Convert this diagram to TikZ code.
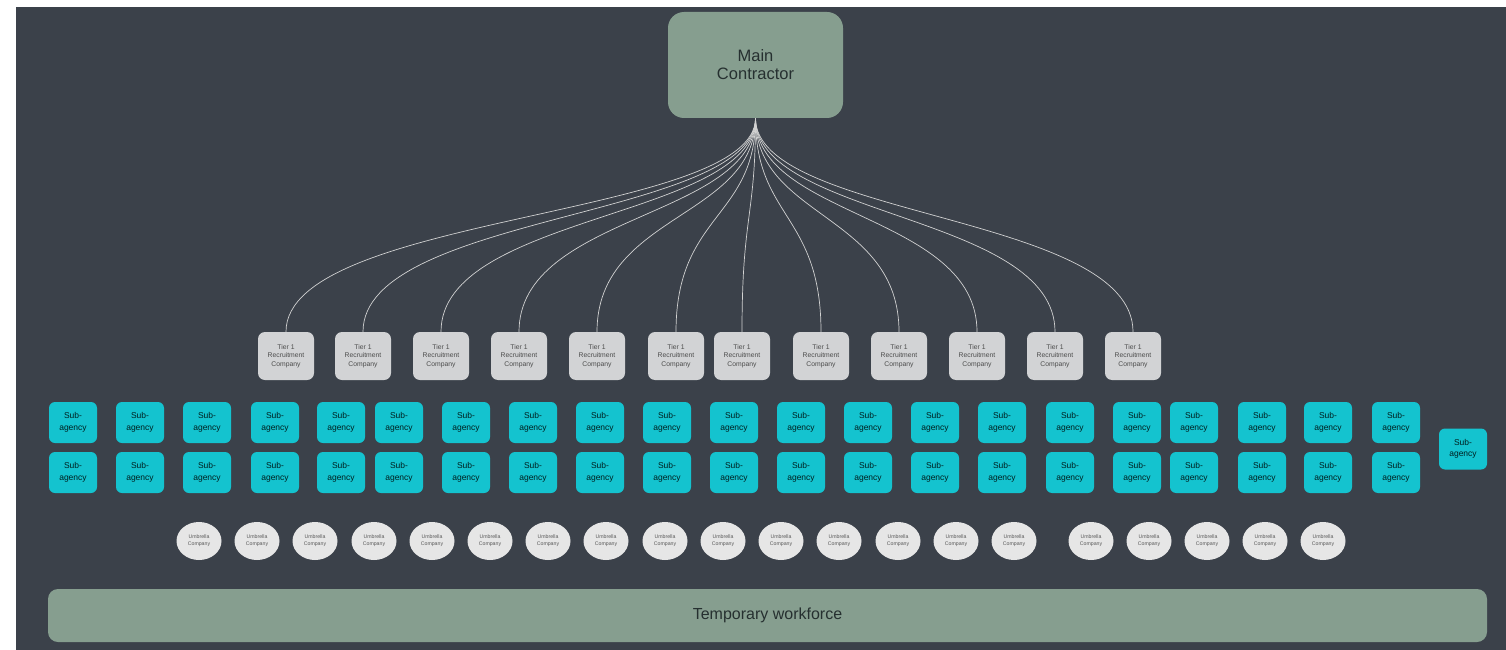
\documentclass[tikz,border=0pt]{standalone}
\usepackage{fontspec}
\setmainfont{Liberation Sans}
\usetikzlibrary{positioning, shapes.geometric}
\definecolor{boardgrey}{HTML}{3B414A}
\definecolor{sagegreen}{HTML}{869E8F}
\definecolor{tiergrey}{HTML}{D2D3D5}
\definecolor{agencycyan}{HTML}{14C3CF}
\definecolor{umbrellagrey}{HTML}{E6E6E6}
\definecolor{inkdark}{HTML}{263030}

\begin{document}
\begin{tikzpicture}[
    x=1pt, y=-1pt,
    every node/.style={align=center, inner sep=0pt},
    contractor/.style={rectangle, rounded corners=16pt, fill=sagegreen, minimum width=175pt, minimum height=106pt, text=inkdark, font=\fontsize{16.5}{18}\selectfont},
    tierbox/.style={rectangle, rounded corners=7pt, fill=tiergrey, minimum width=56pt, minimum height=48pt, text=black!70, font=\fontsize{6.8}{8.5}\selectfont},
    agency/.style={rectangle, rounded corners=6pt, fill=agencycyan, minimum width=48pt, minimum height=41pt, text=teal!25!black, font=\fontsize{8.5}{11.5}\selectfont},
    umbrella/.style={ellipse, fill=umbrellagrey, minimum width=45pt, minimum height=38pt, text=black!65, font=\fontsize{5.2}{6.8}\selectfont},
    workforce/.style={rectangle, rounded corners=10pt, fill=sagegreen, minimum width=1439pt, minimum height=53pt, text=inkdark, font=\fontsize{16}{19}\selectfont},
    link/.style={draw=gray!35, line width=0.7pt}
]
\useasboundingbox (0,0) rectangle (1506,650);
\fill[white] (0,0) rectangle (1506,650);
\fill[boardgrey] (16,7) rectangle (1506,650);

% Main contractor
\node[contractor] (main) at (755.5,65) {Main\\Contractor};

% Tier 1 recruitment companies
\foreach \x [count=\i] in {286,363,441,519,597,676,742,821,899,977,1055,1133}
  \node[tierbox] (t\i) at (\x,356) {Tier 1\\Recruitment\\Company};

% Sub-agencies, two rows
\foreach \x [count=\i] in {73,140,207,275,341,399,466,533,600,667,734,801,868,935,1002,1070,1137,1194,1262,1328,1396} {
  \node[agency] (sa\i) at (\x,422.5) {Sub-\\agency};
  \node[agency] (sb\i) at (\x,472.5) {Sub-\\agency};
}
\node[agency] (sc) at (1463,449) {Sub-\\agency};

% Umbrella companies
\foreach \x [count=\i] in {199,257,315,374,432,490,548,606,665,723,781,839,898,956,1014,1091,1149,1207,1265,1323}
  \node[umbrella] (u\i) at (\x,541) {Umbrella\\Company};

% Temporary workforce
\node[workforce] (temp) at (767.5,615.5) {Temporary workforce};

% Connections
\foreach \i in {1,...,12}
  \draw[link] (main.south) .. controls +(0,100) and +(0,-118) .. (t\i.north);

\end{tikzpicture}
\end{document}
